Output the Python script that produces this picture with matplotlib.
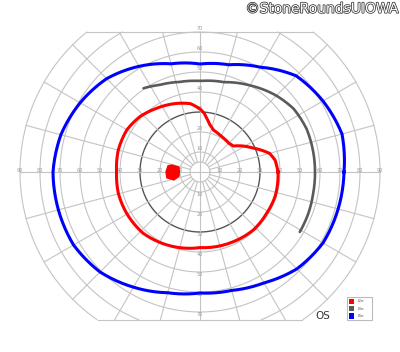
import numpy as np
import matplotlib
matplotlib.use("Agg")
import matplotlib.pyplot as plt
from matplotlib.patches import Rectangle
import matplotlib.patheffects as pe

# isopters: meridian (deg) and eccentricity (deg)
i4e_ang = [0, 15, 30, 45, 60, 75, 90, 105, 120, 135, 150, 165, 180,
           195, 210, 225, 240, 255, 270, 285, 300, 315, 330, 345, 360]
i4e_ecc = [72, 73.5, 71, 68, 60.5, 55.5, 54, 56, 61, 66, 69.2, 72, 73.5,
           73.3, 73, 70.7, 66.5, 62.5, 60.5, 61.3, 64, 68.5, 71, 71.5, 72]

i3e_ang = [124, 115, 103, 90, 75, 60, 45, 34, 22, 10, 0, -11, -21, -31]
i3e_ecc = [50.5, 48, 46.2, 45.5, 46.5, 50, 54, 56.5, 57.5, 57.5, 57.5, 57.6, 58, 58.2]

i2e_ang = [0, 9, 15, 24, 38, 45, 55, 62, 72, 78, 82, 86, 90, 98, 106, 124,
           137, 150, 165, 180, 195, 209, 227, 245, 270, 295, 313, 328, 342, 360]
i2e_ecc = [39, 38, 36, 29.3, 21.1, 20.4, 20.6, 21, 22, 24, 26.5, 29.5, 31.5,
           34.5, 35.8, 38.5, 40.8, 42.2, 42.3, 41.7, 42.2, 42.1, 41.8, 40.1,
           37.8, 38.6, 39.4, 39.2, 39.5, 39]

# blind spot (I2e)
spot_ang = [166, 167, 180, 191, 197, 190, 180, 169]
spot_ecc = [14.4, 10.8, 10.3, 10.7, 13.6, 16.8, 17, 16.3]

rings = [5, 10, 20, 30, 40, 50, 60, 70, 80, 90]
ring_labels = [10, 20, 30, 40, 50, 60, 70, 80, 90]
top_clip = 70
bottom_clip = -74

legend_names = ["I2e", "I3e", "I4e"]
legend_colors = ["#ff0000", "#5a5a5a", "#0000ff"]


def to_xy(ang, ecc):
    a = np.radians(np.asarray(ang, dtype=float))
    e = np.asarray(ecc, dtype=float)
    return e * np.cos(a), e * np.sin(a)


def polar_path(ang, ecc):
    # draw between readings along the polar grid, like a polar axis would
    ang = np.asarray(ang, dtype=float)
    ecc = np.asarray(ecc, dtype=float)
    aa, ee = [], []
    for i in range(len(ang) - 1):
        s = np.linspace(0, 1, 12, endpoint=False)
        aa.extend(ang[i] + s * (ang[i + 1] - ang[i]))
        ee.extend(ecc[i] + s * (ecc[i + 1] - ecc[i]))
    aa.append(ang[-1])
    ee.append(ecc[-1])
    return to_xy(aa, ee)


fig = plt.figure(figsize=(4, 3.52), dpi=100)
ax = fig.add_axes([0, 0, 1, 1])
ax.set_xlim(-100, 100)
ax.set_ylim(-90, 86)
ax.set_aspect("equal")
ax.axis("off")

grid = "#c4c4c4"
t = np.linspace(0, 2 * np.pi, 721)
for r in rings:
    x, y = r * np.cos(t), r * np.sin(t)
    y = np.where((y > top_clip) | (y < bottom_clip), np.nan, y)
    ax.plot(x, y, color="#555555" if r == 30 else grid,
            lw=1.0 if r == 30 else 0.8, zorder=1)

# clip lines top/bottom
for yc in [top_clip, bottom_clip]:
    xc = np.sqrt(90 ** 2 - yc ** 2)
    ax.plot([-xc, xc], [yc, yc], color=grid, lw=0.8, zorder=1)

# radial lines
for m in range(0, 360, 15):
    a = np.radians(m)
    rr = np.linspace(5, 90, 200)
    x, y = rr * np.cos(a), rr * np.sin(a)
    y = np.where((y > top_clip + 0.01) | (y < bottom_clip - 0.01), np.nan, y)
    ax.plot(x, y, color=grid, lw=0.8, zorder=1)
ax.plot([-5, 5], [0, 0], color=grid, lw=0.8, zorder=1)
ax.plot([0, 0], [-5, 5], color=grid, lw=0.8, zorder=1)

# scale labels
lab = dict(fontsize=3.6, color="#9a9a9a", ha="center", va="center", zorder=2)
for v in ring_labels:
    ax.text(v, 0.6, str(v), **lab)
    ax.text(-v, 0.6, str(v), **lab)
    if v <= 70:
        ax.text(0, v + 1.5, str(v), **lab)
        ax.text(0, -v - 1.2, str(v), **lab)

# isopters
x, y = polar_path(i4e_ang, i4e_ecc)
ax.plot(x, y, color=legend_colors[2], lw=2.2, zorder=3, solid_joinstyle="round")
x, y = polar_path(i3e_ang, i3e_ecc)
ax.plot(x, y, color=legend_colors[1], lw=1.9, zorder=3, solid_capstyle="round")
x, y = polar_path(i2e_ang, i2e_ecc)
ax.plot(x, y, color=legend_colors[0], lw=2.2, zorder=3, solid_joinstyle="round")
x, y = to_xy(spot_ang, spot_ecc)
ax.fill(x, y, color=legend_colors[0], lw=1, ec=legend_colors[0], zorder=3)

# legend box
ax.add_patch(Rectangle((73.5, -74), 12.5, 11.5, fc="white", ec="#bbbbbb", lw=0.8, zorder=4))
for i, (n, c) in enumerate(zip(legend_names, legend_colors)):
    yy = -64.7 - i * 3.6
    ax.add_patch(Rectangle((74.3, yy - 1.4), 2.6, 2.8, fc=c, ec="none", zorder=5))
    ax.text(79, yy, n, fontsize=3.2, color="#555555", va="center", ha="left", zorder=5)

ax.text(61.5, -72, "OS", fontsize=7.5, color="#333333", ha="center", va="center")

fig.text(0.995, 0.975, "©StoneRoundsUIOWA", fontsize=10, color="white",
         ha="right", va="center",
         path_effects=[pe.withStroke(linewidth=1.1, foreground="#333333")])

fig.savefig("out.png", dpi=100, facecolor="white")
